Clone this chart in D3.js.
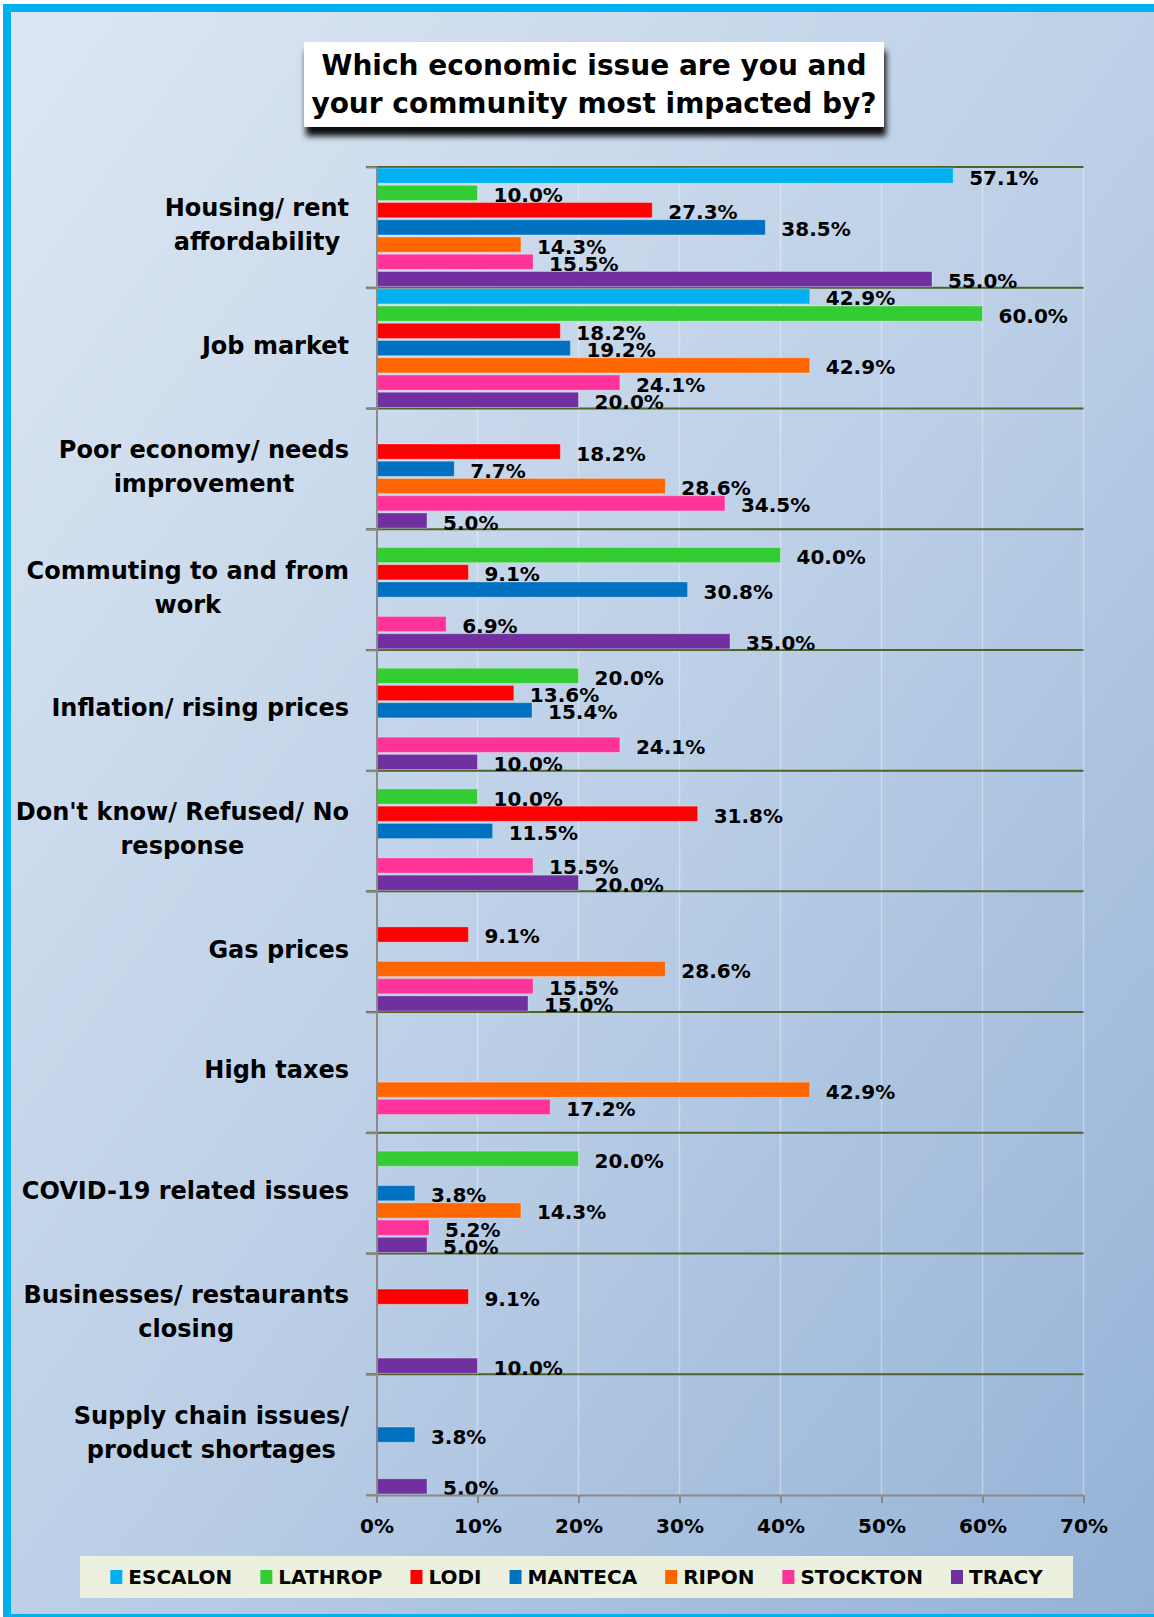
<!DOCTYPE html>
<html>
<head>
    <title>Economic issues</title>
</head>
<style>
    body { margin: 0; }
    svg text { font-family: "DejaVu Sans", sans-serif; font-weight: bold; fill: #000; }
</style>
<body>
<svg width="1154" height="1617"></svg>
<script src="https://d3js.org/d3.v7.min.js"></script>
<script>
var categories = [
    "Housing/ rent|affordability",
    "Job market",
    "Poor economy/ needs|improvement",
    "Commuting to and from|work",
    "Inflation/ rising prices",
    "Don't know/ Refused/ No|response",
    "Gas prices",
    "High taxes",
    "COVID-19 related issues",
    "Businesses/ restaurants|closing",
    "Supply chain issues/|product shortages"
];

var cities = ["ESCALON", "LATHROP", "LODI", "MANTECA", "RIPON", "STOCKTON", "TRACY"];
var colors = ["#00b0f0", "#33cc33", "#ff0000", "#0070c0", "#ff6600", "#ff3399", "#7030a0"];

var escalon  = [57.1, 42.9, null, null, null, null, null, null, null, null, null];
var lathrop  = [10.0, 60.0, null, 40.0, 20.0, 10.0, null, null, 20.0, null, null];
var lodi     = [27.3, 18.2, 18.2, 9.1, 13.6, 31.8, 9.1, null, null, 9.1, null];
var manteca  = [38.5, 19.2, 7.7, 30.8, 15.4, 11.5, null, null, 3.8, null, 3.8];
var ripon    = [14.3, 42.9, 28.6, null, null, null, 28.6, 42.9, 14.3, null, null];
var stockton = [15.5, 24.1, 34.5, 6.9, 24.1, 15.5, 15.5, 17.2, 5.2, null, null];
var tracy    = [55.0, 20.0, 5.0, 35.0, 10.0, 20.0, 15.0, null, 5.0, 10.0, 5.0];

var xTicks = [0, 10, 20, 30, 40, 50, 60, 70];
var titleLines = ["Which economic issue are you and", "your community most impacted by?"];

var seriesValues = [escalon, lathrop, lodi, manteca, ripon, stockton, tracy];

var svg = d3.select("svg"),
    width = +svg.attr("width"),
    height = +svg.attr("height");

var defs = svg.append("defs");
var grad = defs.append("linearGradient")
    .attr("id", "bg")
    .attr("x1", 0).attr("y1", 0).attr("x2", 1).attr("y2", 1);
grad.append("stop").attr("offset", 0).attr("stop-color", "#dde7f3");
grad.append("stop").attr("offset", 0.5).attr("stop-color", "#bdd0e7");
grad.append("stop").attr("offset", 1).attr("stop-color", "#93b1d6");

var shadow = defs.append("filter").attr("id", "shadow")
    .attr("x", "-10%").attr("y", "-10%").attr("width", "120%").attr("height", "150%");
shadow.append("feDropShadow")
    .attr("dx", 2).attr("dy", 9).attr("stdDeviation", 3)
    .attr("flood-color", "#000").attr("flood-opacity", 0.95);

// background + cyan frame (cut off at right / bottom like the source image)
svg.append("rect")
    .attr("x", 0).attr("y", 0).attr("width", width).attr("height", height)
    .attr("fill", "#fff");
svg.append("rect")
    .attr("x", 7).attr("y", 8).attr("width", width + 20).attr("height", height - 7)
    .attr("fill", "url(#bg)")
    .attr("stroke", "#00b0f0")
    .attr("stroke-width", 8);

// title box
svg.append("rect")
    .attr("x", 304).attr("y", 42).attr("width", 580).attr("height", 85)
    .attr("fill", "#fff")
    .attr("filter", "url(#shadow)");
svg.selectAll(".title")
    .data(titleLines)
  .enter().append("text")
    .attr("class", "title")
    .attr("x", 594)
    .attr("y", (d, i) => 75 + i * 38)
    .attr("text-anchor", "middle")
    .style("font-size", "28px")
    .text(d => d);

var x = d3.scaleLinear()
    .domain([0, 70])
    .range([376.5, 1083.5]);

var y = d3.scaleBand()
    .domain(categories)
    .range([167, 1495]);

var ySub = d3.scaleBand()
    .domain(cities)
    .range([0, y.bandwidth()])
    .paddingInner(0.12)
    .paddingOuter(0.06);

var yIdx = d3.scaleLinear()
    .domain([0, categories.length])
    .range([167, 1495]);

// gridlines
svg.append("g")
    .selectAll("line")
    .data(xTicks.slice(1))
  .enter().append("line")
    .attr("x1", d => x(d)).attr("x2", d => x(d))
    .attr("y1", 167).attr("y2", 1495)
    .attr("stroke", "#fff")
    .attr("stroke-opacity", 0.35)
    .attr("stroke-width", 1.5);

// category separators
svg.append("g")
    .selectAll("line")
    .data(d3.range(0, categories.length))
  .enter().append("line")
    .attr("x1", 366).attr("x2", x(70))
    .attr("y1", d => yIdx(d)).attr("y2", d => yIdx(d))
    .attr("stroke", "#4f6228")
    .attr("stroke-width", 2);

// bars
var groups = svg.append("g")
    .selectAll("g")
    .data(cities)
  .enter().append("g")
    .attr("fill", (d, i) => colors[i]);

var cells = groups.selectAll("g")
    .data((c, ci) => seriesValues[ci].map((v, k) => ({ city: c, cat: categories[k], v: v })).filter(d => d.v != null))
  .enter().append("g");

cells.append("rect")
    .attr("x", x(0))
    .attr("y", d => y(d.cat) + ySub(d.city))
    .attr("width", d => x(d.v) - x(0))
    .attr("height", ySub.bandwidth())
    .attr("stroke", "#fff")
    .attr("stroke-opacity", 0.3)
    .attr("stroke-width", 1);

cells.append("text")
    .attr("x", d => x(d.v) + 16)
    .attr("y", d => y(d.cat) + ySub(d.city) + ySub.bandwidth() / 2 + 2)
    .attr("dominant-baseline", "central")
    .style("font-size", "20px")
    .style("fill", "#000")
    .text(d => d.v.toFixed(1) + "%");

// left axis with ticks at band edges
var gY = svg.append("g")
    .attr("transform", "translate(" + x(0) + ",0)")
    .call(d3.axisLeft(yIdx)
        .tickValues(d3.range(0, categories.length + 1))
        .tickSize(10)
        .tickSizeOuter(0)
        .tickFormat(""));
gY.selectAll("line, path").attr("stroke", "#8a8a8a").attr("stroke-width", 2);

// bottom axis
var gX = svg.append("g")
    .attr("transform", "translate(0,1495)")
    .call(d3.axisBottom(x)
        .tickValues(xTicks)
        .tickSize(8)
        .tickSizeOuter(0)
        .tickPadding(16)
        .tickFormat(d => d + "%"));
gX.selectAll("line, path").attr("stroke", "#8a8a8a").attr("stroke-width", 2);
gX.selectAll("text")
    .style("font-size", "20px")
    .style("font-family", "DejaVu Sans")
    .style("font-weight", "bold")
    .attr("fill", "#000");
svg.append("line")
    .attr("x1", 366).attr("x2", x(0))
    .attr("y1", 1495).attr("y2", 1495)
    .attr("stroke", "#8a8a8a").attr("stroke-width", 2);

// category labels: lines centred on each other, block right-aligned
var labelRight = 349;
categories.forEach(function(c) {
    var lines = c.split("|");
    var g = svg.append("g");
    var texts = g.selectAll("text")
        .data(lines)
      .enter().append("text")
        .style("font-size", "24px")
        .attr("text-anchor", "middle")
        .attr("dominant-baseline", "central")
        .attr("y", (d, i) => y(c) + y.bandwidth() / 2 + (i - (lines.length - 1) / 2) * 34 - 2)
        .text(d => d);
    var w = d3.max(texts.nodes(), n => n.getComputedTextLength());
    texts.attr("x", labelRight - w / 2);
});

// legend
var legend = svg.append("g");
legend.append("rect")
    .attr("x", 80).attr("y", 1556).attr("width", 993).attr("height", 42)
    .attr("fill", "#ebf0df");
var lx = 0;
var items = legend.selectAll(".item")
    .data(cities)
  .enter().append("g")
    .attr("class", "item");
items.append("rect")
    .attr("width", 12).attr("height", 14)
    .attr("y", 1570)
    .attr("fill", (d, i) => colors[i]);
items.append("text")
    .attr("x", 18)
    .attr("y", 1577)
    .attr("dominant-baseline", "central")
    .style("font-size", "20px")
    .text(d => d);
var widths = items.select("text").nodes().map(n => 18 + n.getComputedTextLength());
var gap = 28;
var total = d3.sum(widths) + gap * (widths.length - 1);
lx = 80 + (993 - total) / 2;
items.each(function(d, i) {
    d3.select(this).select("rect").attr("x", lx);
    d3.select(this).select("text").attr("x", lx + 18);
    lx += widths[i] + gap;
});
</script>
</body>
</html>
